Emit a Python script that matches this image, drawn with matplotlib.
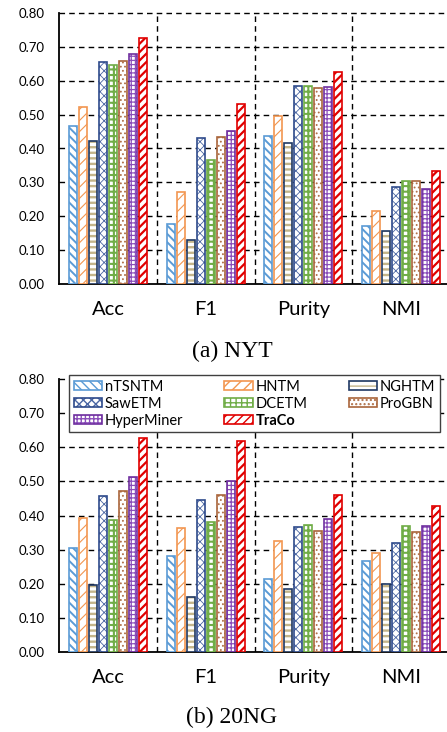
import matplotlib.pyplot as plt
from matplotlib.patches import Rectangle

metrics = ['Acc', 'F1', 'Purity', 'NMI']
models = ['nTSNTM', 'HNTM', 'NGHTM', 'SawETM', 'DCETM', 'ProGBN', 'HyperMiner', 'TraCo']

# values read per model, in metric order Acc, F1, Purity, NMI
nyt_ntsntm = [0.467, 0.179, 0.436, 0.172]
nyt_hntm = [0.523, 0.273, 0.495, 0.215]
nyt_nghtm = [0.422, 0.130, 0.415, 0.157]
nyt_sawetm = [0.656, 0.430, 0.583, 0.286]
nyt_dcetm = [0.645, 0.366, 0.583, 0.305]
nyt_progbn = [0.659, 0.434, 0.578, 0.303]
nyt_hyperminer = [0.678, 0.451, 0.580, 0.282]
nyt_traco = [0.725, 0.531, 0.626, 0.334]

ng_ntsntm = [0.305, 0.281, 0.215, 0.267]
ng_hntm = [0.392, 0.363, 0.325, 0.291]
ng_nghtm = [0.196, 0.161, 0.185, 0.201]
ng_sawetm = [0.457, 0.447, 0.368, 0.320]
ng_dcetm = [0.387, 0.381, 0.372, 0.370]
ng_progbn = [0.471, 0.459, 0.356, 0.351]
ng_hyperminer = [0.512, 0.502, 0.389, 0.370]
ng_traco = [0.627, 0.618, 0.459, 0.428]

nyt = [nyt_ntsntm, nyt_hntm, nyt_nghtm, nyt_sawetm, nyt_dcetm, nyt_progbn, nyt_hyperminer, nyt_traco]
ng = [ng_ntsntm, ng_hntm, ng_nghtm, ng_sawetm, ng_dcetm, ng_progbn, ng_hyperminer, ng_traco]

# (hatch colour, outline colour, hatch, hatch line width)
styles = [
    ('#5B9BD5', '#5B9BD5', '\\\\\\\\', 1.4),
    ('#F29650', '#F29650', '///', 0.8),
    ('#C4B58A', '#1F3864', '---', 1.7),
    ('#4A66A3', '#2E4A8B', 'xxxx', 0.6),
    ('#70AD47', '#70AD47', '+++', 1.5),
    ('#B07048', '#A9653B', '....', 0.8),
    ('#8A4DBA', '#7030A0', '++++', 0.9),
    ('#E00000', '#E00000', '////', 1.6),
]

plt.rcParams['font.family'] = ['Lato', 'DejaVu Sans']

PITCH = 0.102
WIDTH = 0.082


def hatched_pair(hcol, ecol, hatch, hlw):
    with plt.rc_context({'hatch.linewidth': hlw}):
        hp = Rectangle((0, 0), 1, 1, facecolor='white', edgecolor=hcol, hatch=hatch, linewidth=0)
    op = Rectangle((0, 0), 1, 1, fill=False, edgecolor=ecol, linewidth=1.2)
    return hp, op


def draw_panel(ax, data):
    for j, vals in enumerate(data):
        hcol, ecol, hatch, hlw = styles[j]
        xs = [i + 0.5 + (j - 3.5) * PITCH for i in range(len(metrics))]
        with plt.rc_context({'hatch.linewidth': hlw}):
            ax.bar(xs, vals, WIDTH, color='white', edgecolor=hcol, hatch=hatch, linewidth=0, zorder=3)
        ax.bar(xs, vals, WIDTH, fill=False, edgecolor=ecol, linewidth=1.2, zorder=4)
    ax.set_xlim(0, 4)
    ax.set_ylim(0, 0.8)
    ax.set_yticks([i / 10 for i in range(9)])
    ax.set_yticklabels(['%.2f' % (i / 10) for i in range(9)])
    ax.set_xticks([0.5, 1.5, 2.5, 3.5])
    ax.set_xticklabels(metrics, fontsize=14.5)
    ax.tick_params(axis='x', length=0, pad=12)
    ax.tick_params(axis='y', length=0, pad=10, labelsize=9.5)
    for y in [i / 10 for i in range(1, 9)]:
        ax.axhline(y, color='black', linestyle=(0, (4, 3)), linewidth=1.0, zorder=1, clip_on=False)
    for x in [1, 2, 3]:
        ax.axvline(x, color='black', linestyle=(0, (4, 3)), linewidth=1.0, zorder=1)
    ax.spines['top'].set_visible(False)
    ax.spines['right'].set_visible(False)
    ax.spines['left'].set_linewidth(1.3)
    ax.spines['bottom'].set_linewidth(1.3)


def add_legend(ax):
    handles = [hatched_pair(*s) for s in styles]
    # reorder so matplotlib's column filling reads row by row
    order = [0, 3, 6, 1, 4, 7, 2, 5]
    leg = ax.legend([handles[k] for k in order], [models[k] for k in order],
                    ncol=3, mode='expand', loc='lower left',
                    bbox_to_anchor=(0.026, 0.806, 0.948, 0.183), borderaxespad=0,
                    fontsize=10.5, handlelength=1.95, handleheight=0.5, handletextpad=0.2,
                    labelspacing=0.2, borderpad=0.3, fancybox=False, framealpha=1,
                    edgecolor='#404040')
    leg.get_frame().set_linewidth(1.0)
    leg.set_zorder(5)
    for t in leg.get_texts():
        if t.get_text() == 'TraCo':
            t.set_fontweight('bold')


fig = plt.figure(figsize=(4.47, 7.32), dpi=100)
ax1 = fig.add_axes([59 / 447, 1 - 284.3 / 732, 391 / 447, 271.6 / 732])
ax2 = fig.add_axes([59 / 447, 1 - 652.3 / 732, 391 / 447, 273.3 / 732])
draw_panel(ax1, nyt)
draw_panel(ax2, ng)
add_legend(ax2)

fig.text(232 / 447, 1 - 351 / 732, '(a) NYT', ha='center', va='center', fontsize=17, family='Liberation Serif')
fig.text(232 / 447, 1 - 717 / 732, '(b) 20NG', ha='center', va='center', fontsize=17, family='Liberation Serif')

fig.savefig('out.png', dpi=100)
